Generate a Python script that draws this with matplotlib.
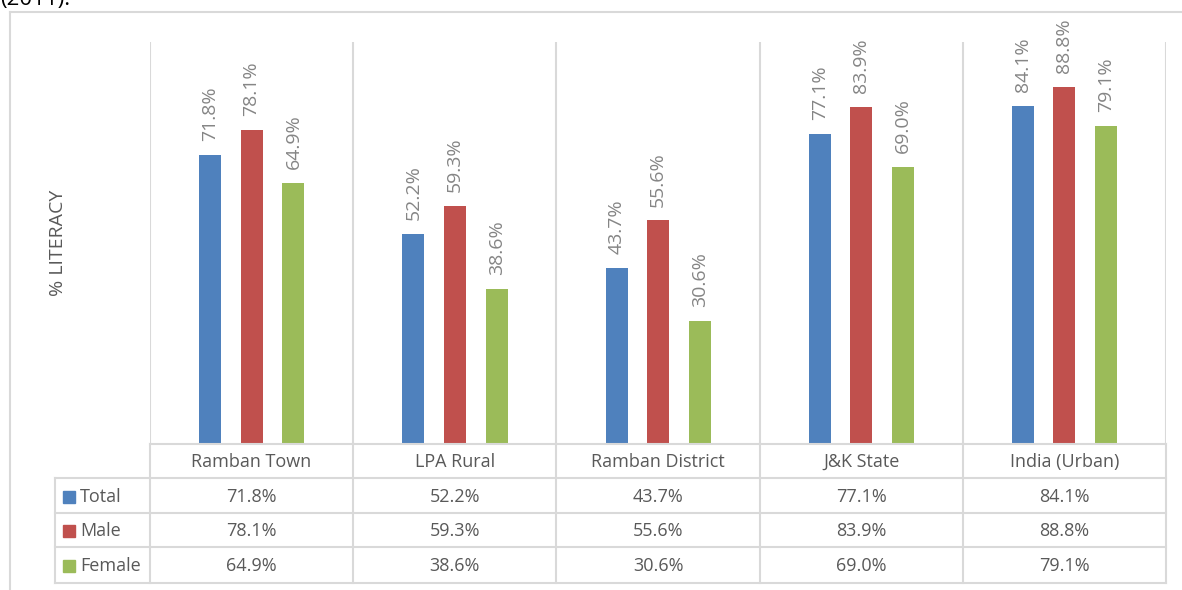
import matplotlib
matplotlib.use("Agg")
import matplotlib.pyplot as plt
from matplotlib.patches import Rectangle

plt.rcParams["font.family"] = ["Open Sans", "DejaVu Sans"]

categories = ["Ramban Town", "LPA Rural", "Ramban District", "J&K State", "India (Urban)"]
series_names = ["Total", "Male", "Female"]
total = [71.8, 52.2, 43.7, 77.1, 84.1]
male = [78.1, 59.3, 55.6, 83.9, 88.8]
female = [64.9, 38.6, 30.6, 69.0, 79.1]
series_values = [total, male, female]
colors = ["#4F81BD", "#C0504D", "#9BBB59"]

W, H = 1182, 590
GRID = "#d9d9d9"
TXT = "#595959"
LBL = "#858585"

fig = plt.figure(figsize=(W / 100, H / 100), dpi=100)

# plot area in pixel coordinates
PL, PR, PT, PB = 150, 1166, 42, 444
ax = fig.add_axes([PL / W, 1 - PB / H, (PR - PL) / W, (PB - PT) / H])
ax.set_xlim(0, len(categories))
ax.set_ylim(0, 100)
ax.axis("off")

offsets = [-0.204, 0.0, 0.206]
bar_w = 0.108
for vals, off, col in zip(series_values, offsets, colors):
    xs = [i + 0.5 + off for i in range(len(categories))]
    ax.bar(xs, vals, width=bar_w, color=col, zorder=3)
    for x, v in zip(xs, vals):
        ax.annotate(f"{v:.1f}%", (x, v), xytext=(0, 10), textcoords="offset points",
                    rotation=90, ha="center", va="bottom", color=LBL, fontsize=14)

ax.vlines(range(len(categories) + 1), 0, 100, color=GRID, lw=1.5, zorder=1)

# overlay in pixel units for the data table and frame
ov = fig.add_axes([0, 0, 1, 1])
ov.set_xlim(0, W)
ov.set_ylim(H, 0)
ov.axis("off")

# outer chart frame
ov.plot([10, 10], [12, H], color=GRID, lw=1.5)
ov.plot([10, W], [12, 12], color=GRID, lw=1.5)

ov.text(0, 5, "(2011).", fontsize=16, color="black", va="baseline", ha="left")

ov.text(58, (PT + PB) / 2, "% LITERACY", rotation=90, ha="center", va="center",
        color=TXT, fontsize=14)

rows_y = [PB, 478, 513, 547, 583]
TL = 55
col_w = (PR - PL) / len(categories)
col_x = [PL + k * col_w for k in range(len(categories) + 1)]

ov.plot([PL, PR], [rows_y[0], rows_y[0]], color=GRID, lw=1.5)
for y in rows_y[1:]:
    ov.plot([TL, PR], [y, y], color=GRID, lw=1.5)
ov.plot([TL, TL], [rows_y[1], rows_y[-1]], color=GRID, lw=1.5)
for x in col_x:
    ov.plot([x, x], [rows_y[0], rows_y[-1]], color=GRID, lw=1.5)

for k, name in enumerate(categories):
    ov.text(col_x[k] + col_w / 2, (rows_y[0] + rows_y[1]) / 2 + 1, name,
            ha="center", va="center", color=TXT, fontsize=13)

for r, (name, vals, col) in enumerate(zip(series_names, series_values, colors)):
    yc = (rows_y[r + 1] + rows_y[r + 2]) / 2 + 1
    ov.add_patch(Rectangle((63, yc - 6), 12, 12, color=col))
    ov.text(80, yc, name, ha="left", va="center", color=TXT, fontsize=13)
    for k, v in enumerate(vals):
        ov.text(col_x[k] + col_w / 2, yc, f"{v:.1f}%", ha="center", va="center",
                color=TXT, fontsize=13)

fig.savefig("out.png", dpi=100)
